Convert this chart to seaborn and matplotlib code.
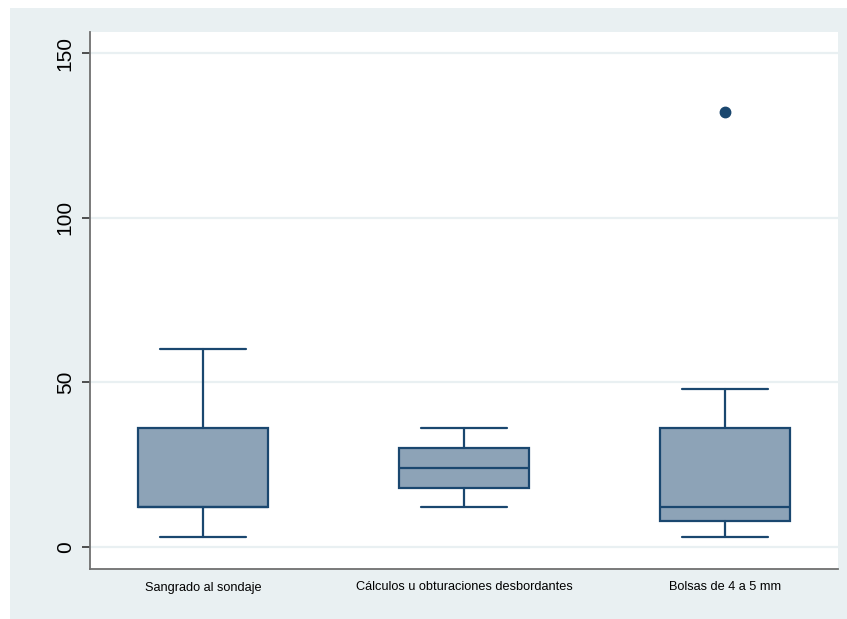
import matplotlib
matplotlib.use("Agg")
import matplotlib.pyplot as plt
import seaborn as sns
from matplotlib.patches import Rectangle

# Five-number summaries per group (minutes)
categories = ["Sangrado al sondaje",
              "Cálculos u obturaciones desbordantes",
              "Bolsas de 4 a 5 mm"]
lower_adjacent = [3, 12, 3]
q1 = [12, 18, 8]
median = [12, 24, 12]
q3 = [36, 30, 36]
upper_adjacent = [60, 36, 48]
outliers = [[], [], [132]]
y_ticks = [0, 50, 100, 150]

NAVY = "#1a476f"
FILL = "#8da3b7"
REGION = "#e9f0f2"
GRID = "#e9f0f2"

sns.set_theme(style="white")
plt.rcParams["font.family"] = ["Liberation Sans", "DejaVu Sans"]

fig = plt.figure(figsize=(8.47, 6.19), dpi=100, facecolor="white")
fig.patches.append(Rectangle((10 / 847, 0), 1 - 10 / 847, 1 - 8 / 619,
                             transform=fig.transFigure, facecolor=REGION,
                             edgecolor="none", zorder=-10))

ax = fig.add_axes([90 / 847, (619 - 569) / 619, (838 - 90) / 847, (569 - 32) / 619])
ax.set_facecolor("white")

stats = [
    dict(label=c, whislo=lo, q1=a, med=m, q3=b, whishi=hi, fliers=f)
    for c, lo, a, m, b, hi, f in zip(categories, lower_adjacent, q1, median,
                                     q3, upper_adjacent, outliers)
]
ax.bxp(stats, positions=[1, 2, 3], widths=0.5, capwidths=0.333,
       patch_artist=True,
       boxprops=dict(facecolor=FILL, edgecolor=NAVY, linewidth=1.6),
       medianprops=dict(color=NAVY, linewidth=1.6),
       whiskerprops=dict(color=NAVY, linewidth=1.6),
       capprops=dict(color=NAVY, linewidth=1.6),
       flierprops=dict(marker="o", markerfacecolor=NAVY, markeredgecolor=NAVY,
                       markersize=7.5, linestyle="none"))

ax.set_xlim(0.567, 3.433)
ax.set_ylim(-6.68, 156.4)
ax.set_yticks(y_ticks)
ax.set_yticklabels([str(v) for v in y_ticks], rotation=90, va="center",
                   fontsize=15, color="black")
ax.tick_params(axis="y", length=6, width=1.1, color="#222222", pad=5,
               left=True, labelcolor="black")
ax.tick_params(axis="x", length=0, pad=9, labelsize=9.2, labelcolor="black")
ax.yaxis.grid(True, color=GRID, linewidth=1.6)
ax.set_axisbelow(True)

for side in ["top", "right"]:
    ax.spines[side].set_visible(False)
for side in ["left", "bottom"]:
    ax.spines[side].set_color("#707070")
    ax.spines[side].set_linewidth(1.3)

fig.savefig("out.png", dpi=100, facecolor="white")
